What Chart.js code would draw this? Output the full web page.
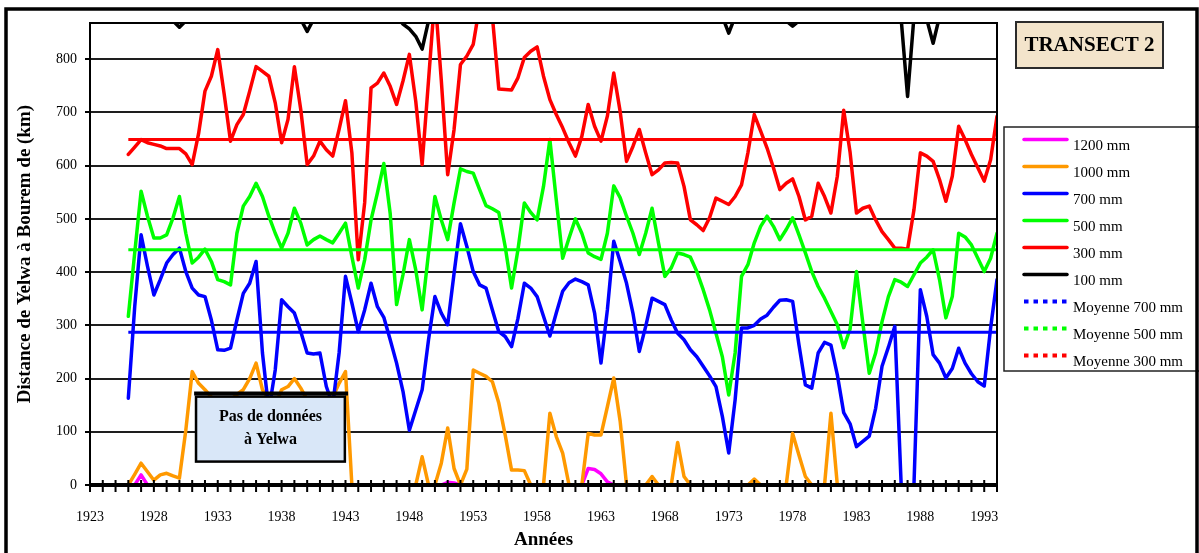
<!DOCTYPE html>
<html lang="fr">
<head>
<meta charset="utf-8">
<title>Transect 2 – distance de Yelwa à Bourem</title>
<script src="https://cdn.jsdelivr.net/npm/chart.js@4.4.1/dist/chart.umd.min.js"></script>
<style>
  html, body { margin: 0; padding: 0; background: #fff; }
  #wrap { width: 1199px; height: 553px; }
</style>
</head>
<body>
<div id="wrap"><canvas id="chart" width="1199" height="553"></canvas></div>
<script>
// Half-yearly distances (km) between Yelwa and each isohyet, 1926 to 1994
const firstYear = 1926;
const yearStep = 0.5;

const iso1200 = [
  0, 0, 19, 0, 0, 0, 0, 0, 0, 0,
  0, 0, 0, 0, 0, 0, 0, 0, 0, 0,
  0, 0, 0, 0, 0, 0, 0, 0, 0, 0,
  0, 0, 0, 0, 0, 0, 0, 0, 0, 0,
  0, 0, 0, 0, 0, 0, 0, 0, 0, 0,
  5, 4, 0, 0, 0, 0, 0, 0, 0, 0,
  0, 0, 0, 0, 0, 0, 0, 0, 0, 0,
  0, 0, 31, 29, 21, 6, 0, 0, 0, 0,
  0, 0, 0, 0, 0, 0, 0, 0, 0, 0,
  0, 0, 0, 0, 0, 0, 0, 0, 0, 0,
  0, 0, 0, 0, 0, 0, 0, 0, 0, 0,
  0, 0, 0, 0, 0, 0, 0, 0, 0, 0,
  0, 0, 0, 0, 0, 0, 0, 0, 0, 0,
  0, 0, 0, 0, 0, 0, 0
];

const iso1000 = [
  0, 20, 41, 25, 9, 19, 22, 17, 13, 103,
  213, 191, 179, 165, 150, 145, 160, 170, 179, 200,
  229, 179, 160, 150, 179, 185, 200, 182, 160, 150,
  145, 150, 165, 191, 213, 0, 0, 0, 0, 0,
  0, 0, 0, 0, 0, 0, 53, 0, 0, 41,
  107, 31, 0, 30, 216, 210, 204, 194, 154, 94,
  28, 28, 27, 0, 0, 0, 135, 91, 60, 0,
  0, 0, 97, 94, 94, 147, 201, 120, 0, 0,
  0, 0, 16, 0, 0, 0, 80, 16, 0, 0,
  0, 0, 0, 0, 0, 0, 0, 0, 11, 0,
  0, 0, 0, 0, 97, 56, 16, 0, 0, 0,
  135, 0, 0, 0, 0, 0, 0, 0, 0, 0,
  0, 0, 0, 0, 0, 0, 0, 0, 0, 0,
  0, 0, 0, 0, 0, 0, 0
];

const iso700 = [
  163, 335, 470, 411, 357, 386, 417, 433, 445, 401,
  370, 357, 354, 310, 254, 253, 257, 310, 360, 379,
  420, 248, 140, 216, 348, 335, 323, 288, 248, 246,
  248, 185, 150, 248, 392, 342, 288, 329, 379, 335,
  315, 273, 229, 176, 103, 141, 179, 273, 354, 323,
  301, 398, 491, 448, 401, 376, 370, 329, 288, 279,
  260, 313, 379, 370, 354, 317, 280, 323, 364, 380,
  387, 382, 376, 323, 229, 329, 458, 420, 379, 323,
  251, 298, 351, 345, 339, 310, 285, 273, 254, 241,
  223, 205, 185, 129, 60, 160, 295, 295, 300, 312,
  319, 334, 347, 348, 345, 263, 188, 182, 248, 268,
  263, 207, 136, 115, 72, 82, 92, 144, 223, 259,
  298, 0, 0, 0, 367, 317, 245, 229, 201, 219,
  257, 229, 209, 194, 186, 295, 386
];

const iso500 = [
  317, 436, 552, 505, 464, 464, 470, 502, 542, 473,
  417, 428, 443, 420, 386, 382, 376, 473, 524, 542,
  567, 542, 505, 473, 445, 473, 520, 492, 451, 461,
  468, 461, 455, 473, 492, 429, 370, 423, 498, 549,
  604, 510, 339, 395, 461, 404, 329, 436, 542, 498,
  461, 530, 594, 589, 586, 555, 525, 519, 512, 448,
  370, 442, 530, 512, 498, 561, 649, 536, 426, 464,
  500, 473, 436, 429, 424, 473, 562, 540, 505, 473,
  433, 473, 520, 455, 392, 408, 436, 433, 428, 401,
  367, 329, 285, 241, 169, 248, 392, 414, 455, 486,
  505, 486, 461, 480, 502, 470, 436, 401, 373, 351,
  326, 301, 258, 293, 401, 304, 210, 248, 307, 354,
  386, 381, 373, 395, 417, 428, 442, 386, 314, 354,
  473, 466, 451, 426, 401, 426, 473
];

const iso300 = [
  621, 635, 649, 643, 640, 637, 632, 632, 632, 622,
  602, 660, 740, 768, 818, 735, 646, 677, 696, 740,
  786, 777, 768, 718, 643, 687, 786, 705, 602, 618,
  646, 630, 618, 668, 722, 624, 423, 530, 746, 755,
  774, 749, 715, 759, 809, 721, 602, 760, 920, 760,
  583, 668, 790, 806, 828, 900, 900, 880, 744, 743,
  742, 765, 803, 815, 823, 768, 724, 696, 671, 643,
  618, 655, 715, 674, 646, 693, 774, 702, 608, 636,
  668, 624, 583, 592, 605, 606, 605, 561, 498, 489,
  478, 502, 539, 533, 527, 542, 564, 624, 696, 665,
  633, 596, 555, 567, 575, 542, 498, 505, 567, 542,
  511, 580, 704, 625, 511, 520, 524, 498, 476, 461,
  445, 445, 443, 517, 624, 618, 608, 574, 533, 580,
  674, 649, 621, 596, 571, 611, 693
];

const iso100 = [
  930, 925, 935, 940, 920, 905, 890, 872, 860, 872,
  895, 915, 940, 960, 950, 930, 925, 935, 920, 905,
  915, 930, 945, 935, 920, 905, 900, 875, 852, 875,
  900, 920, 940, 955, 945, 930, 910, 925, 935, 915,
  900, 890, 880, 866, 857, 843, 819, 872, 900, 920,
  945, 960, 950, 935, 925, 940, 955, 945, 930, 915,
  925, 940, 950, 935, 920, 910, 925, 940, 930, 915,
  905, 920, 935, 925, 910, 900, 915, 930, 920, 905,
  915, 930, 940, 925, 910, 900, 895, 910, 925, 915,
  900, 905, 915, 880, 849, 880, 905, 920, 930, 915,
  900, 890, 885, 872, 862, 872, 890, 905, 920, 930,
  920, 905, 895, 900, 915, 905, 895, 885, 890, 895,
  885, 875, 730, 880, 900, 875, 830, 880, 905, 925,
  935, 930, 915, 920, 935, 925, 910
];

// Long-term means of the 700, 500 and 300 mm isohyet distances
const meanLabels = ['Moyenne 700 mm', 'Moyenne 500 mm', 'Moyenne 300 mm'];
const meanValues = [287, 442, 649];

const seriesLabels = ['1200 mm', '1000 mm', '700 mm', '500 mm', '300 mm', '100 mm'];
const labelledYears = [1923, 1928, 1933, 1938, 1943, 1948, 1953, 1958, 1963, 1968, 1973, 1978, 1983, 1988, 1993];

const seriesValues = [iso1200, iso1000, iso700, iso500, iso300, iso100];
const seriesColors = ['#ff00ff', '#ff9900', '#0000ff', '#00ff00', '#ff0000', '#000000'];
const meanColors = ['#0000ff', '#00ff00', '#ff0000'];

const toPoints = vals => vals.map((v, k) => ({ x: firstYear + k * yearStep, y: v }));
const lastYear = firstYear + (iso300.length - 1) * yearStep;

const datasets = [];
seriesValues.forEach((vals, k) => {
  datasets.push({
    label: seriesLabels[k],
    data: toPoints(vals),
    borderColor: seriesColors[k],
    backgroundColor: seriesColors[k],
    borderWidth: 3.5,
    pointRadius: 0,
    tension: 0,
    borderJoinStyle: 'round',
    borderCapStyle: 'round',
    clip: 0
  });
});
meanValues.forEach((m, k) => {
  datasets.push({
    label: meanLabels[k],
    data: [{ x: firstYear, y: m }, { x: lastYear, y: m }],
    borderColor: meanColors[k],
    backgroundColor: meanColors[k],
    borderWidth: 3,
    pointRadius: 0,
    clip: 0,
    legendDash: [4.5, 5]
  });
});
// later series are painted over earlier ones
datasets.forEach((ds, k) => { ds.order = datasets.length - k; });

const SERIF = '"Liberation Serif", "Times New Roman", serif';
Chart.defaults.font.family = SERIF;
Chart.defaults.color = '#000';

const pageBackground = {
  id: 'pageBackground',
  beforeDraw(chart) {
    const ctx = chart.ctx;
    ctx.save();
    ctx.fillStyle = '#fff';
    ctx.fillRect(0, 0, chart.width, chart.height);
    ctx.restore();
  }
};

// Top and right edges of the plot area, plus the "no data" note drawn over the lines
const plotDecor = {
  id: 'plotDecor',
  afterDatasetsDraw(chart, args, opts) {
    const { ctx, chartArea: a, scales: { x, y } } = chart;
    ctx.save();
    ctx.strokeStyle = '#000';
    ctx.lineWidth = 2;
    ctx.beginPath();
    ctx.moveTo(a.left, a.top);
    ctx.lineTo(a.right, a.top);
    ctx.lineTo(a.right, a.bottom);
    ctx.stroke();

    const n = opts.note;
    const bx0 = x.getPixelForValue(n.from), bx1 = x.getPixelForValue(n.to);
    const by0 = y.getPixelForValue(n.top), by1 = y.getPixelForValue(n.bottom);
    ctx.fillStyle = '#d9e7f8';
    ctx.fillRect(bx0, by0, bx1 - bx0, by1 - by0);
    ctx.lineWidth = 2.5;
    ctx.strokeRect(bx0, by0, bx1 - bx0, by1 - by0);
    ctx.lineWidth = 4;
    ctx.beginPath();
    ctx.moveTo(x.getPixelForValue(n.barFrom), y.getPixelForValue(n.bar));
    ctx.lineTo(x.getPixelForValue(n.barTo), y.getPixelForValue(n.bar));
    ctx.stroke();
    ctx.fillStyle = '#000';
    ctx.font = 'bold 16px ' + SERIF;
    ctx.textAlign = 'center';
    ctx.textBaseline = 'middle';
    const cx = (bx0 + bx1) / 2;
    n.lines.forEach((t, k) => ctx.fillText(t, cx, by0 + 20 + k * 23));
    ctx.restore();
  }
};

// x axis line with a cross tick at every year
const axisTicks = {
  id: 'axisTicks',
  afterDraw(chart) {
    const { ctx, chartArea: a, scales: { x } } = chart;
    ctx.save();
    ctx.strokeStyle = '#000';
    ctx.lineWidth = 4;
    ctx.beginPath();
    ctx.moveTo(a.left - 1, a.bottom);
    ctx.lineTo(a.right + 1, a.bottom);
    ctx.stroke();
    ctx.lineWidth = 2;
    ctx.beginPath();
    x.ticks.forEach(t => {
      const px = x.getPixelForValue(t.value);
      ctx.moveTo(px, a.bottom - 5);
      ctx.lineTo(px, a.bottom + 7);
    });
    ctx.stroke();
    ctx.restore();
  }
};

// Title tag, boxed legend and outer frame
const sideItems = {
  id: 'sideItems',
  afterDraw(chart, args, opts) {
    const ctx = chart.ctx;
    ctx.save();
    const t = opts.tag;
    ctx.fillStyle = '#f3e4cb';
    ctx.fillRect(t.x, t.y, t.w, t.h);
    ctx.strokeStyle = '#2b2b2b';
    ctx.lineWidth = 2;
    ctx.strokeRect(t.x, t.y, t.w, t.h);
    ctx.fillStyle = '#000';
    ctx.font = 'bold 21px ' + SERIF;
    ctx.textAlign = 'center';
    ctx.textBaseline = 'middle';
    ctx.fillText(t.text, t.x + t.w / 2, t.y + t.h / 2 + 1);

    const L = opts.legend;
    ctx.fillStyle = '#fff';
    ctx.fillRect(L.x, L.y, L.w, L.h);
    ctx.strokeStyle = '#222';
    ctx.lineWidth = 1.5;
    ctx.strokeRect(L.x, L.y, L.w, L.h);
    ctx.font = '15px ' + SERIF;
    ctx.textAlign = 'left';
    ctx.textBaseline = 'alphabetic';
    chart.data.datasets.forEach((ds, k) => {
      const ry = L.firstRow + k * L.rowGap;
      ctx.strokeStyle = ds.borderColor;
      if (ds.legendDash) {
        ctx.setLineDash(ds.legendDash);
        ctx.lineCap = 'butt';
        ctx.lineWidth = 4;
      } else {
        ctx.setLineDash([]);
        ctx.lineCap = 'round';
        ctx.lineWidth = 3.5;
      }
      ctx.beginPath();
      ctx.moveTo(L.sampleX, ry);
      ctx.lineTo(L.sampleX + L.sampleW, ry);
      ctx.stroke();
      ctx.setLineDash([]);
      ctx.fillStyle = '#000';
      ctx.fillText(ds.label, L.textX, ry + L.textDrop);
    });

    const f = opts.frame;
    ctx.strokeStyle = '#000';
    ctx.lineWidth = 3.5;
    ctx.strokeRect(f.x, f.y, f.w, f.h);
    ctx.restore();
  }
};

new Chart(document.getElementById('chart'), {
  type: 'line',
  data: { datasets },
  plugins: [pageBackground, plotDecor, axisTicks, sideItems],
  options: {
    responsive: false,
    animation: false,
    layout: { padding: { top: 23, right: 202, bottom: 0, left: 0 } },
    plugins: {
      legend: { display: false },
      tooltip: { enabled: false },
      plotDecor: {
        note: {
          from: 1931.3, to: 1942.95, top: 166, bottom: 44,
          barFrom: 1931.15, barTo: 1943.2, bar: 172,
          lines: ['Pas de données', 'à Yelwa']
        }
      },
      sideItems: {
        tag: { x: 1016, y: 22, w: 147, h: 46, text: 'TRANSECT 2' },
        legend: { x: 1004, y: 127, w: 230, h: 244, firstRow: 139.5, rowGap: 27, sampleX: 1024, sampleW: 43, textX: 1073, textDrop: 10.5 },
        frame: { x: 6, y: 9, w: 1191, h: 560 }
      }
    },
    scales: {
      x: {
        type: 'linear',
        min: 1923,
        max: 1994,
        afterFit: s => { s.height = 68; },
        grid: { display: true, drawOnChartArea: false, drawTicks: false },
        border: { display: true, color: '#000', width: 3 },
        ticks: {
          stepSize: 1,
          autoSkip: false,
          maxRotation: 0,
          padding: 24,
          font: { size: 14 },
          callback: v => labelledYears.includes(Math.round(v)) ? String(Math.round(v)) : ''
        },
        title: {
          display: true,
          text: 'Années',
          font: { size: 19, weight: 'bold' },
          padding: { top: 0, bottom: 2 }
        }
      },
      y: {
        min: 0,
        max: 868,
        afterFit: s => { s.width = 90; },
        grid: { color: '#1e1e1e', lineWidth: 2, drawTicks: true, tickLength: 5, tickColor: '#000', tickWidth: 2 },
        border: { display: true, color: '#000', width: 2 },
        ticks: { stepSize: 100, includeBounds: false, padding: 8, font: { size: 14 } },
        title: {
          display: true,
          text: 'Distance de Yelwa à Bourem de (km)',
          font: { size: 19, weight: 'bold' },
          padding: { top: 14, bottom: 0 }
        }
      }
    }
  }
});
</script>
</body>
</html>
